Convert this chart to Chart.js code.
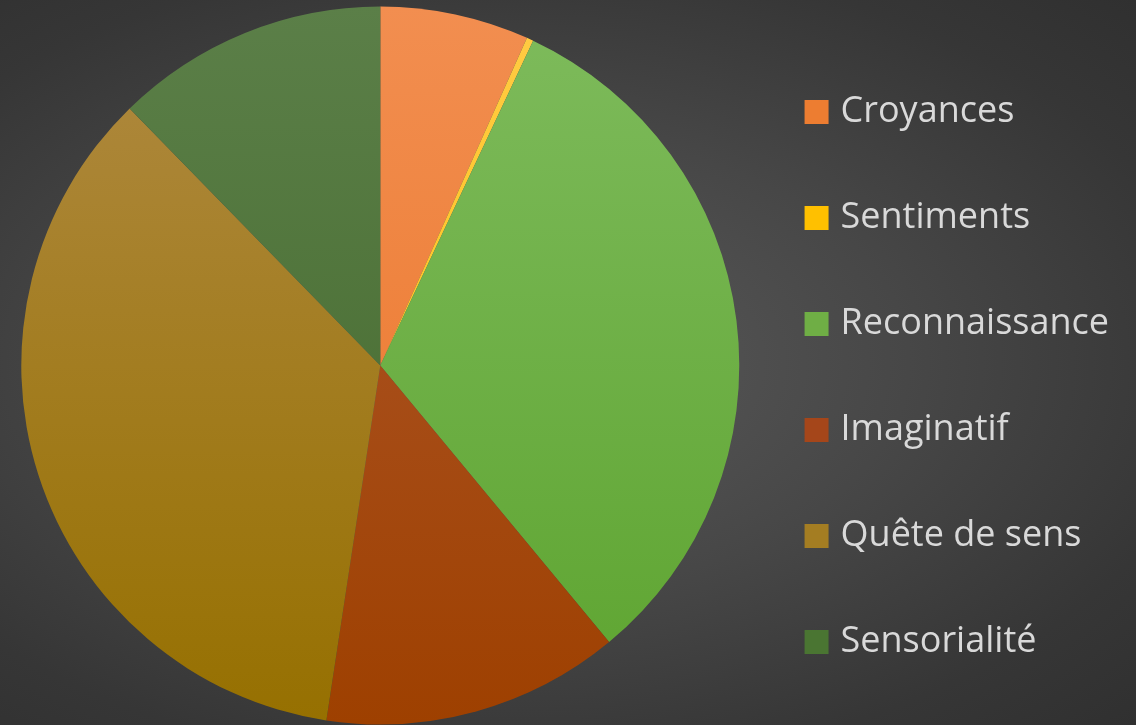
<!DOCTYPE html>
<html>
<head>
<meta charset="utf-8">
<script src="https://cdn.jsdelivr.net/npm/chart.js@4"></script>
<style>
  html, body { margin: 0; padding: 0; }
  body {
    width: 1136px; height: 725px; overflow: hidden;
    background: radial-gradient(ellipse at 45% 50%, #5a5a5a 0%, #474747 45%, #363636 80%, #303030 100%);
  }
  #wrap { width: 1136px; height: 725px; position: relative; }
</style>
</head>
<body>
<div id="wrap"><canvas id="pieChart"></canvas></div>
<script>
// Categories and shares (percent)
const categories = ["Croyances", "Sentiments", "Reconnaissance", "Imaginatif", "Quête de sens", "Sensorialité"];
const shares = [6.7, 0.3, 32.0, 13.4, 35.3, 12.3];

// Office-like gradient fills: light at top, base at bottom
const lightColors = ["#f28e50", "#ffcb45", "#7ebb5c", "#b05a30", "#b08a42", "#5b7f48"];
const baseColors = ["#ea7426", "#ffc000", "#5da42f", "#9e4000", "#967000", "#42672a"];
const legendColors = ["#ed7d31", "#ffc000", "#6fae45", "#a5461a", "#a47d22", "#4a7532"];

function sliceFill(ctx) {
    const area = ctx.chart.chartArea;
    if (!area) return baseColors[ctx.dataIndex];
    const g = ctx.chart.ctx.createLinearGradient(0, area.top, 0, area.bottom);
    g.addColorStop(0, lightColors[ctx.dataIndex]);
    g.addColorStop(1, baseColors[ctx.dataIndex]);
    return g;
}

const pieCtx = document.getElementById("pieChart").getContext("2d");
new Chart(pieCtx, {
    type: "pie",
    data: {
        labels: categories,
        datasets: [{
            data: shares,
            backgroundColor: sliceFill,
            borderWidth: 0,
            radius: 359
        }]
    },
    options: {
        responsive: true,
        maintainAspectRatio: false,
        animation: false,
        layout: { padding: { left: 20, top: 6, right: 17, bottom: -5 } },
        plugins: {
            tooltip: { enabled: false },
            legend: {
                position: "right",
                align: "end",
                labels: {
                    color: "#d9d9d9",
                    font: { family: "'Open Sans', sans-serif", size: 36 },
                    // small box + thick stroke of same colour = 24px square, closer to text
                    boxWidth: 12,
                    boxHeight: 12,
                    padding: 70,
                    generateLabels: (chart) => chart.data.labels.map((text, i) => ({
                        text: text,
                        fillStyle: legendColors[i],
                        strokeStyle: legendColors[i],
                        lineWidth: 12,
                        fontColor: "#d9d9d9",
                        hidden: false,
                        index: i
                    }))
                }
            }
        }
    }
});
</script>
</body>
</html>
